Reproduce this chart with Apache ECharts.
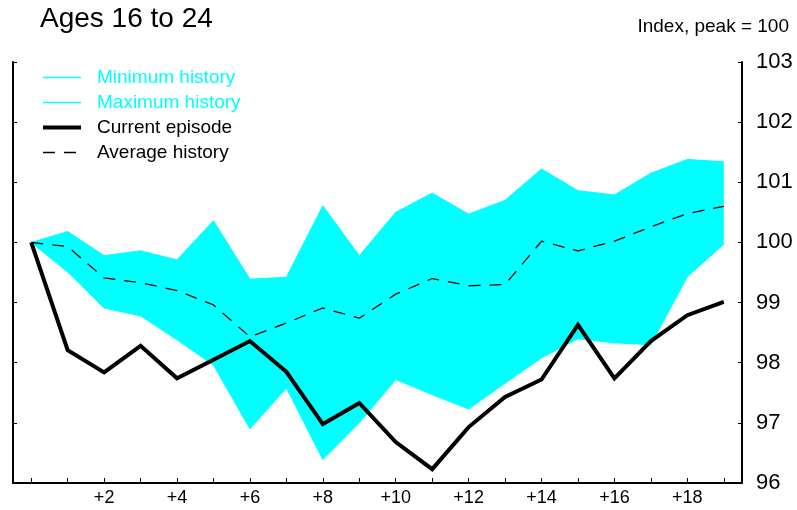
<!DOCTYPE html>
<html><head><meta charset="utf-8">
<script src="https://cdn.jsdelivr.net/npm/echarts@6/dist/echarts.min.js"></script>
<style>html,body{margin:0;padding:0;background:#fff}#c{width:797px;height:510px}</style>
</head><body><div id="c"></div>
<script>
const categories = ['0','+1','+2','+3','+4','+5','+6','+7','+8','+9','+10','+11','+12','+13','+14','+15','+16','+17','+18','+19'];
const shownLabels = ['+2','+4','+6','+8','+10','+12','+14','+16','+18'];
const minHistory = [100, 99.51, 98.91, 98.78, 98.38, 97.96, 96.90, 97.58, 96.39, 97.00, 97.72, 97.47, 97.23, 97.66, 98.08, 98.40, 98.33, 98.30, 99.43, 99.97];
const maxHistory = [100, 100.18, 99.78, 99.86, 99.71, 100.36, 99.39, 99.42, 100.61, 99.78, 100.50, 100.82, 100.47, 100.70, 101.22, 100.86, 100.79, 101.15, 101.38, 101.34];
const currentEpisode = [100, 98.21, 97.84, 98.28, 97.74, 98.05, 98.36, 97.85, 96.98, 97.33, 96.68, 96.23, 96.93, 97.43, 97.72, 98.63, 97.74, 98.36, 98.79, 99.01];
const averageHistory = [100, 99.93, 99.41, 99.33, 99.20, 98.96, 98.43, 98.66, 98.91, 98.74, 99.14, 99.40, 99.28, 99.30, 100.02, 99.86, 100.02, 100.26, 100.48, 100.60];
const yMin = 96, yMax = 103;

const FONT = '"Liberation Sans", Arial, Helvetica, sans-serif';
const CYAN = '#00FFFF';
const bandHeight = maxHistory.map((v, i) => +(v - minHistory[i]).toFixed(4));

const chart = echarts.init(document.getElementById('c'), null, {renderer: 'canvas'});
const yAxisCommon = {
  type: 'value', min: yMin, max: yMax, interval: 1,
  splitLine: {show: false},
  axisLine: {show: true, lineStyle: {color: '#000', width: 2}},
  axisTick: {show: true, inside: true, length: 4, lineStyle: {color: '#000', width: 1}}
};
chart.setOption({
  animation: false,
  backgroundColor: '#fff',
  textStyle: {fontFamily: FONT},
  title: {
    text: 'Ages 16 to 24', left: 35, top: 0,
    textStyle: {fontFamily: FONT, fontSize: 28, fontWeight: 'normal', color: '#000'}
  },
  graphic: [{
    type: 'text', right: 8, top: 17,
    style: {text: 'Index, peak = 100', font: '19px ' + FONT, fill: '#000'}
  }],
  legend: {
    orient: 'vertical', left: 36, top: 63,
    itemWidth: 38, itemHeight: 19, itemGap: 6,
    selectedMode: false,
    itemStyle: {color: 'rgba(0,0,0,0)', opacity: 0, borderWidth: 0},
    textStyle: {fontFamily: FONT, fontSize: 19, color: '#000', padding: [0, 0, 0, 11]},
    data: [
      {name: 'Minimum history', textStyle: {color: CYAN}, lineStyle: {color: CYAN, width: 1.5, opacity: 1}},
      {name: 'Maximum history', textStyle: {color: CYAN}, lineStyle: {color: CYAN, width: 1.5, opacity: 1}},
      {name: 'Current episode', lineStyle: {color: '#000', width: 4}},
      {name: 'Average history', lineStyle: {color: '#000', width: 1.3}}
    ]
  },
  grid: {left: 13, right: 55, top: 62, bottom: 27, containLabel: false},
  xAxis: {
    type: 'category', data: categories, boundaryGap: true,
    axisLine: {show: true, lineStyle: {color: '#000', width: 2}},
    axisTick: {show: true, inside: true, alignWithLabel: true, interval: 0, length: 5, lineStyle: {color: '#000', width: 1}},
    axisLabel: {
      interval: 0, margin: 6, color: '#000', fontSize: 18, fontFamily: FONT,
      formatter: v => shownLabels.includes(v) ? v : ''
    }
  },
  yAxis: [
    Object.assign({}, yAxisCommon, {
      position: 'right',
      axisLabel: {show: true, margin: 14, color: '#000', fontSize: 22, fontFamily: FONT}
    }),
    Object.assign({}, yAxisCommon, {
      position: 'left',
      axisLabel: {show: false}
    })
  ],
  series: [
    {
      name: 'Minimum history', type: 'line', data: minHistory, stack: 'band',
      symbol: 'none', lineStyle: {color: CYAN, width: 1}, itemStyle: {color: CYAN}, z: 1
    },
    {
      name: 'Maximum history', type: 'line', data: bandHeight, stack: 'band',
      symbol: 'none', lineStyle: {color: CYAN, width: 1}, itemStyle: {color: CYAN},
      areaStyle: {color: CYAN, opacity: 1}, z: 1
    },
    {
      name: 'Average history', type: 'line', data: averageHistory,
      symbol: 'none', lineStyle: {color: '#000', width: 1.3, type: [12, 9]}, itemStyle: {color: '#000'}, z: 3
    },
    {
      name: 'Current episode', type: 'line', data: currentEpisode,
      symbol: 'none', lineStyle: {color: '#000', width: 4, join: 'miter'}, itemStyle: {color: '#000'}, z: 4
    }
  ]
});
</script></body></html>
